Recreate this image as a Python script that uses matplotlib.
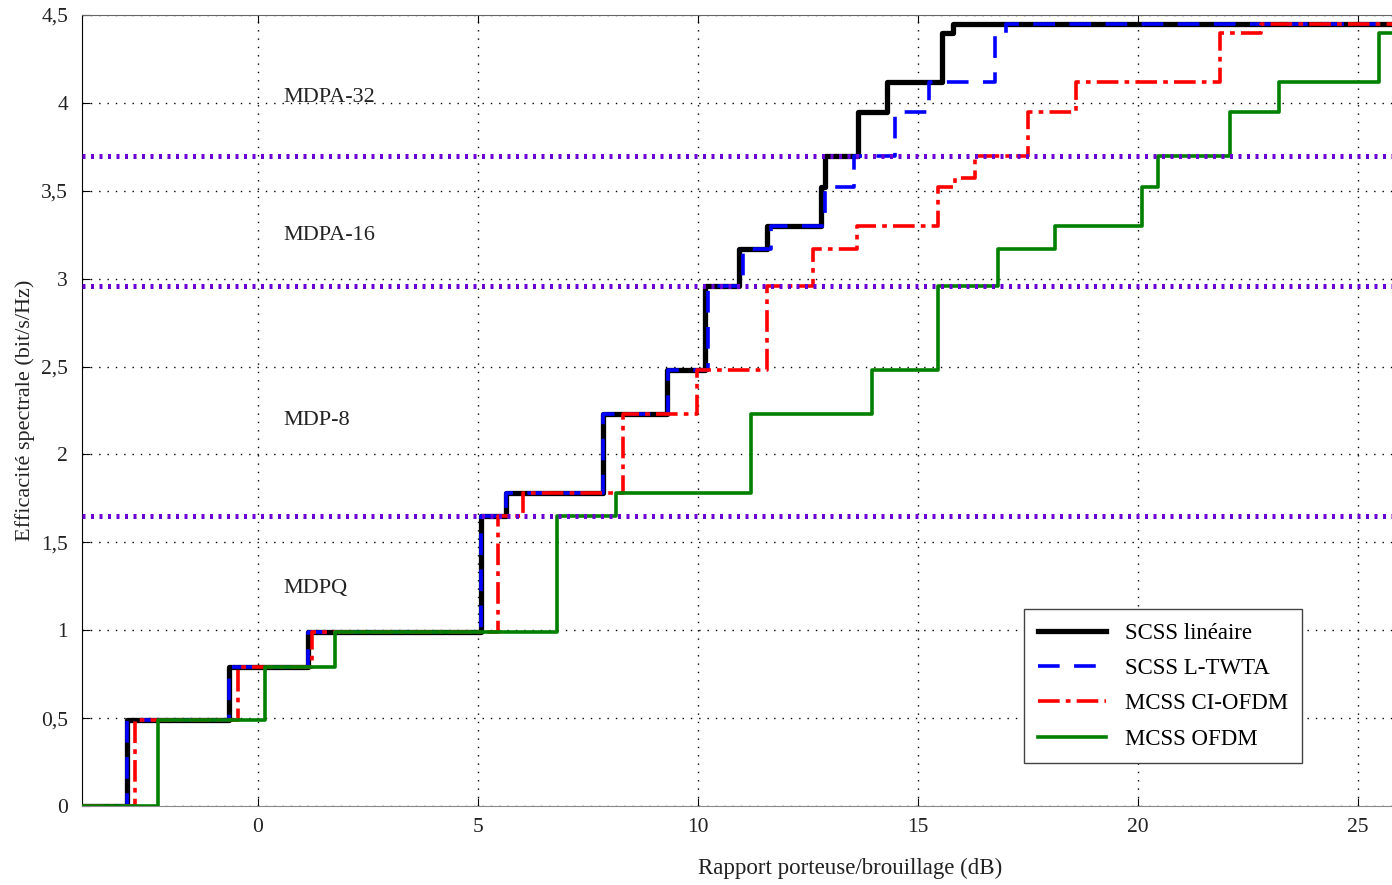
import numpy as np
import matplotlib
matplotlib.use('Agg')
import matplotlib.pyplot as plt

plt.rcParams['font.family'] = ['Liberation Serif', 'DejaVu Serif']

# step thresholds (dB) and spectral efficiency levels (bit/s/Hz)
lin_x = [-4, -2.98, -0.66, 1.14, 5.07, 5.64, 7.84, 9.30, 10.16, 10.93, 11.57,
         12.80, 12.88, 13.64, 14.30, 15.55, 15.80, 26]
lin_y = [0, 0.49, 0.79, 0.99, 1.65, 1.78, 2.23, 2.48, 2.96, 3.17, 3.30,
         3.52, 3.70, 3.95, 4.12, 4.40, 4.45, 4.45]

twta_x = [-4, -2.98, -0.66, 1.14, 5.07, 5.64, 7.84, 9.32, 10.23, 11.02, 11.66,
          12.89, 13.55, 14.48, 15.25, 16.75, 17.00, 26]
twta_y = [0, 0.49, 0.79, 0.99, 1.65, 1.78, 2.23, 2.48, 2.96, 3.17, 3.30,
          3.52, 3.70, 3.95, 4.12, 4.40, 4.45, 4.45]

ci_x = [-4, -2.80, -0.45, 1.23, 5.45, 6.02, 8.30, 9.98, 11.57, 12.61, 13.61,
        15.45, 15.84, 16.30, 17.50, 18.60, 21.86, 22.80, 26]
ci_y = [0, 0.49, 0.79, 0.99, 1.65, 1.78, 2.23, 2.48, 2.96, 3.17, 3.30,
        3.52, 3.57, 3.70, 3.95, 4.12, 4.40, 4.45, 4.45]

ofdm_x = [-4, -2.27, 0.16, 1.75, 6.80, 8.14, 11.20, 13.95, 15.45, 16.82, 18.11,
          20.09, 20.45, 22.09, 23.20, 25.48, 26]
ofdm_y = [0, 0.49, 0.79, 0.99, 1.65, 1.78, 2.23, 2.48, 2.96, 3.17, 3.30,
          3.52, 3.70, 3.95, 4.12, 4.40, 4.40]

# modulation boundaries
bounds = [1.65, 2.96, 3.70]
zone_names = ['MDPQ', 'MDP-8', 'MDPA-16', 'MDPA-32']
zone_y = [1.24, 2.195, 3.243, 4.028]

xticks = [0, 5, 10, 15, 20, 25]
yticks = [0, 0.5, 1, 1.5, 2, 2.5, 3, 3.5, 4, 4.5]
ytick_labels = ['0', '0,5', '1', '1,5', '2', '2,5', '3', '3,5', '4', '4,5']

fig = plt.figure(figsize=(13.92, 8.85), dpi=100)
ax = fig.add_axes([82 / 1392, 1 - 806 / 885, 1 - 82 / 1392, (806 - 15) / 885])

ax.plot(lin_x, lin_y, drawstyle='steps-post', color='k', lw=3.8,
        label='SCSS linéaire', zorder=2)
ax.plot(twta_x, twta_y, drawstyle='steps-post', color='#0000ff', lw=2.6,
        dashes=(6, 4), label='SCSS L-TWTA', zorder=3)
ax.plot(ci_x, ci_y, drawstyle='steps-post', color='#ff0000', lw=2.6,
        dashes=(6, 1.7, 1.3, 1.7), label='MCSS CI-OFDM', zorder=4)
ax.plot(ofdm_x, ofdm_y, drawstyle='steps-post', color='#008000', lw=2.6,
        label='MCSS OFDM', zorder=5)

for b in bounds:
    ax.axhline(b, color='#6a00d4', lw=3.6, linestyle=(0, (0.6, 1.1)), zorder=6)

for name, yy in zip(zone_names, zone_y):
    ax.text(0.57, yy, name, fontsize=16, va='center', ha='left', color='#222222')

ax.set_xlim(-4, 25.77)
ax.set_ylim(0, 4.5)
ax.set_xticks(xticks)
ax.set_xticklabels([str(t) for t in xticks])
ax.set_yticks(yticks)
ax.set_yticklabels(ytick_labels)
ax.tick_params(direction='in', length=6, labelsize=15.5, top=True,
               labelcolor='#222222')
ax.tick_params(axis='x', pad=9)
ax.tick_params(axis='y', pad=10)
ax.grid(True, color='k', lw=1.0, linestyle=(0, (1, 5)))

ax.spines['right'].set_visible(False)
ax.spines['top'].set_color('#666666')
ax.spines['bottom'].set_color('#888888')
ax.spines['left'].set_color('k')

ax.set_xlabel('Rapport porteuse/brouillage (dB)', fontsize=16.5, color='#222222')
ax.xaxis.set_label_coords((850 - 82) / 1310, -0.066)
ax.set_ylabel('Efficacité spectrale (bit/s/Hz)', fontsize=16, color='#222222')
ax.yaxis.set_label_coords(-0.036, 0.5)

leg = ax.legend(loc='upper left', bbox_to_anchor=(0.719, 0.249), fontsize=16.5,
                handlelength=3.0, handletextpad=0.8, borderpad=0.6,
                labelspacing=0.62, fancybox=False, framealpha=1,
                edgecolor='#444444', borderaxespad=0)
leg.get_frame().set_linewidth(1.0)
leg.set_zorder(10)

fig.savefig('out.png', dpi=100)
